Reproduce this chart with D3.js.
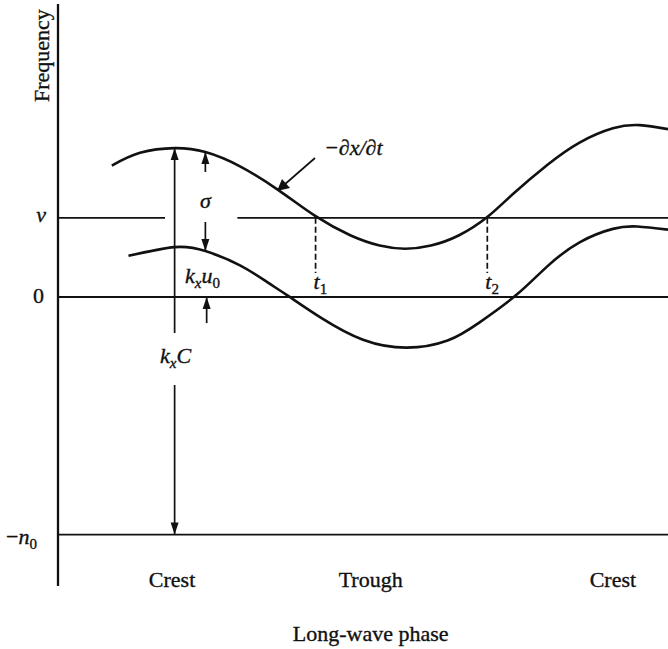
<!DOCTYPE html>
<html>
<head>
<meta charset="utf-8">
<title>Long-wave phase</title>
<script src="https://cdn.jsdelivr.net/npm/d3@7"></script>
<style>
    body { margin: 0; background: #fff; overflow: hidden; }
    svg text { font-family: 'Liberation Serif', 'Times New Roman', serif; fill: #111; stroke: #111; stroke-width: 0.35; }
    svg .math { font-style: italic; }
</style>
</head>
<body>
<div id="container"></div>
<script>
// phase along the long wave (degrees, crest = 0) and frequency (units of nu)
var upperPhase = [-49, -27, 0, 24, 51, 81, 110, 137, 160, 180, 200, 222, 244, 264, 291, 316, 342, 363, 385];
var upperFreq  = [1.66, 1.82, 1.88, 1.83, 1.65, 1.35, 1.02, 0.78, 0.65, 0.61, 0.65, 0.78, 1.01, 1.30, 1.67, 1.95, 2.13, 2.17, 2.12];
var lowerPhase = [-36, 0, 24, 51, 72, 88, 115, 147, 181, 213, 238, 267, 291, 316, 342, 361, 385];
var lowerFreq  = [0.52, 0.63, 0.58, 0.40, 0.19, 0.02, -0.27, -0.54, -0.64, -0.55, -0.32, 0.03, 0.39, 0.69, 0.86, 0.89, 0.85];

var levelValues = [1, 0, -3];           // nu, 0, -n0
var phaseLabels = ["Crest", "Trough", "Crest"];
var phaseLabelAt = [-2, 153, 342];
var crossPhase = [110, 244];            // t1, t2
var crossSub = ["1", "2"];

var width = 668, height = 649;

var svg = d3.select("#container").append("svg")
    .attr("width", width).attr("height", height);

var x = d3.scaleLinear().domain([-91, 385]).range([58, 668]);
var y = d3.scaleLinear().domain([-3.65, 3.7]).range([586, 4]);

function arrowHead(px, py, dir) {
    // dir: -1 points up, 1 points down
    var L = 12, w = 4;
    svg.append("path")
        .attr("d", "M" + px + "," + py + "L" + (px - w) + "," + (py - dir * L) + "L" + (px + w) + "," + (py - dir * L) + "Z")
        .attr("fill", "#111");
}

function vline(px, y0, y1, dash) {
    svg.append("line").attr("x1", px).attr("x2", px).attr("y1", y0).attr("y2", y1)
        .attr("stroke", "#111").attr("stroke-width", 1.7)
        .attr("stroke-dasharray", dash || null);
}

function hline(x0, x1, py) {
    svg.append("line").attr("x1", x0).attr("x2", x1).attr("y1", py).attr("y2", py)
        .attr("stroke", "#111").attr("stroke-width", 1.8);
}

// label built from pieces: [text, isSub, italic]
function label(px, py, parts, anchor) {
    var t = svg.append("text").attr("x", px).attr("y", py)
        .attr("font-size", 22).attr("text-anchor", anchor || "start");
    var shift = 0;
    parts.forEach(function (p) {
        var dy = (p[1] ? 5 : 0) - shift;
        shift = p[1] ? 5 : 0;
        t.append("tspan").attr("dy", dy)
            .attr("font-size", p[1] ? 15 : 22)
            .attr("class", p[2] ? "math" : null)
            .text(p[0]);
    });
    return t;
}

// vertical axis
svg.append("line").attr("x1", x(-91)).attr("x2", x(-91))
    .attr("y1", y(3.7)).attr("y2", y(-3.65))
    .attr("stroke", "#111").attr("stroke-width", 2.3);

svg.append("text").attr("transform", "translate(49,102) rotate(-90)")
    .attr("font-size", 22).text("Frequency");

// horizontal levels
hline(x(-91), x(-7.5), y(levelValues[0]));
hline(x(49), width, y(levelValues[0]));
hline(x(-91), width, y(levelValues[1]));
hline(x(-91), width, y(levelValues[2]));

label(46, y(levelValues[0]) + 4, [["\u03bd", false, true]], "end");
label(44, y(levelValues[1]) + 6, [["0", false, false]], "end");
label(6, y(levelValues[2]) + 9, [["\u2212", false, false], ["n", false, true], ["0", true, false]]);

// curves
var line = d3.line()
    .x(function (d) { return x(d[0]); })
    .y(function (d) { return y(d[1]); })
    .curve(d3.curveNatural);

svg.append("path").datum(d3.zip(upperPhase, upperFreq))
    .attr("d", line).attr("fill", "none").attr("stroke", "#111").attr("stroke-width", 2.6);
svg.append("path").datum(d3.zip(lowerPhase, lowerFreq))
    .attr("d", line).attr("fill", "none").attr("stroke", "#111").attr("stroke-width", 2.6);

// k_x C arrow at the crest
var crestTop = y(d3.max(upperFreq.slice(0, 6)));
vline(x(0), crestTop, 333);
vline(x(0), 385, y(levelValues[2]));
arrowHead(x(0), crestTop, -1);
arrowHead(x(0), y(levelValues[2]), 1);
label(160, 363, [["k", false, true], ["x", true, true], ["C", false, true]]);

// sigma arrow
var sx = x(24);
vline(sx, y(1.83), 172);
vline(sx, 222, y(0.58));
arrowHead(sx, y(1.83), -1);
arrowHead(sx, y(0.58), 1);
label(sx, 208, [["\u03c3", false, true]], "middle");

// k_x u_0
label(185, 283, [["k", false, true], ["x", true, true], ["u", false, true], ["0", true, false]]);
vline(x(25), y(0), y(-0.33));
arrowHead(x(25), y(0), -1);

// t1, t2
crossPhase.forEach(function (p, i) {
    vline(x(p), y(levelValues[0]), 273, "6,3");
    label(x(p) - 2, 289, [["t", false, true], [crossSub[i], true, false]]);
});

// -dx/dt pointer
svg.append("line").attr("x1", 315).attr("y1", 158).attr("x2", 284).attr("y2", 185)
    .attr("stroke", "#111").attr("stroke-width", 1.7);
svg.append("path").attr("d", "M277,191L282,179L290,188Z").attr("fill", "#111");
label(324, 155, [["\u2212\u2202x/\u2202t", false, true]]);

// phase labels
phaseLabels.forEach(function (s, i) {
    svg.append("text").attr("x", x(phaseLabelAt[i])).attr("y", 587)
        .attr("font-size", 22).attr("text-anchor", "middle").text(s);
});

svg.append("text").attr("x", x(phaseLabelAt[1])).attr("y", 641)
    .attr("font-size", 22).attr("text-anchor", "middle").text("Long-wave phase");
</script>
</body>
</html>
